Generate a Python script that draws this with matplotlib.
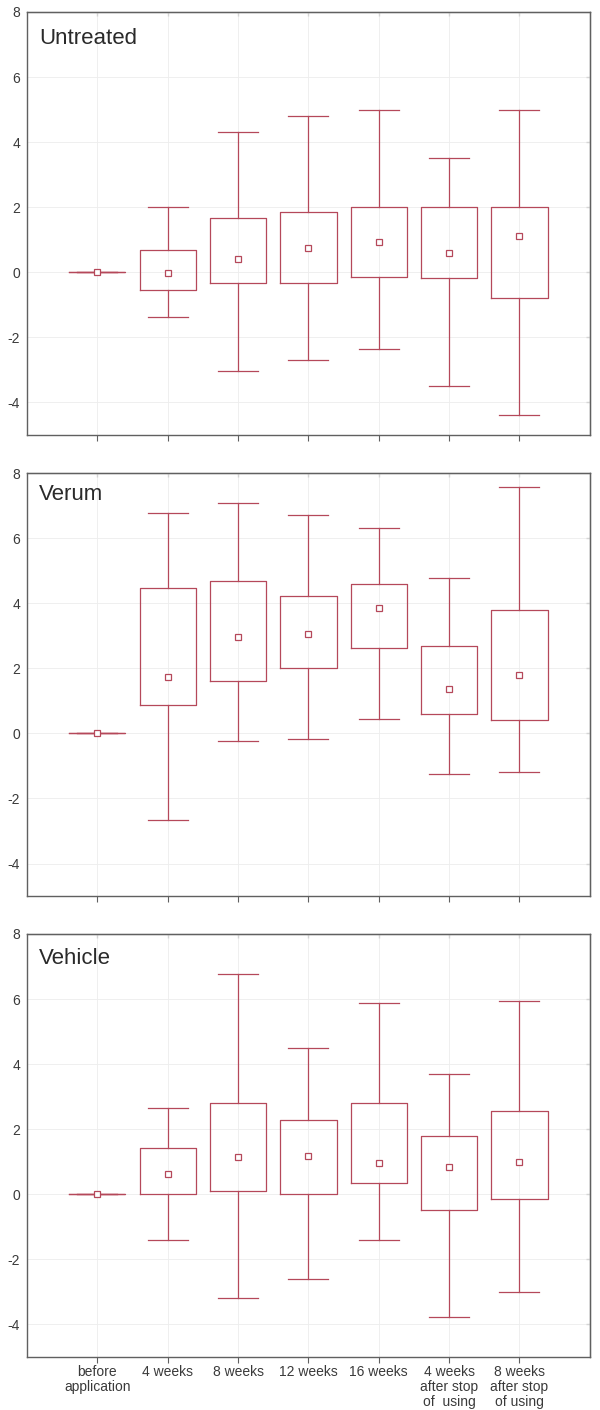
import matplotlib
matplotlib.use("Agg")
import matplotlib.pyplot as plt

plt.rcParams['font.family'] = ['Liberation Sans', 'DejaVu Sans']
plt.rcParams['axes.unicode_minus'] = False

# --- Data ---
categories = ["before\napplication", "4 weeks", "8 weeks", "12 weeks", "16 weeks",
              "4 weeks\nafter stop\nof  using", "8 weeks\nafter stop\nof using"]
groups = ["Untreated", "Verum", "Vehicle"]

# Untreated
untreated_center = [0, -0.02, 0.42, 0.75, 0.92, 0.59, 1.13]
untreated_q1 = [0, -0.55, -0.33, -0.33, -0.14, -0.19, -0.79]
untreated_q3 = [0, 0.70, 1.66, 1.84, 2.00, 2.00, 2.00]
untreated_min = [0, -1.38, -3.02, -2.69, -2.36, -3.50, -4.39]
untreated_max = [0, 2.00, 4.31, 4.80, 5.00, 3.50, 5.00]

# Verum
verum_center = [0, 1.72, 2.96, 3.06, 3.85, 1.37, 1.78]
verum_q1 = [0, 0.87, 1.60, 2.00, 2.62, 0.60, 0.41]
verum_q3 = [0, 4.47, 4.69, 4.21, 4.59, 2.67, 3.80]
verum_min = [0, -2.65, -0.22, -0.18, 0.44, -1.25, -1.20]
verum_max = [0, 6.78, 7.09, 6.70, 6.31, 4.78, 7.58]

# Vehicle
vehicle_center = [0, 0.62, 1.15, 1.18, 0.97, 0.83, 0.98]
vehicle_q1 = [0, 0.00, 0.09, 0.00, 0.34, -0.49, -0.15]
vehicle_q3 = [0, 1.41, 2.80, 2.27, 2.80, 1.79, 2.56]
vehicle_min = [0, -1.39, -3.20, -2.60, -1.39, -3.78, -2.99]
vehicle_max = [0, 2.65, 6.77, 4.50, 5.87, 3.70, 5.94]

series = [
    (untreated_center, untreated_q1, untreated_q3, untreated_min, untreated_max),
    (verum_center, verum_q1, verum_q3, verum_min, verum_max),
    (vehicle_center, vehicle_q1, vehicle_q3, vehicle_min, vehicle_max),
]

col = "#b5485a"
spine_col = "#606060"
text_col = "#3a3a3a"

fig = plt.figure(figsize=(6, 14.1), dpi=100)
bottoms = [0.6915, 0.3645, 0.0376]
title_y = [0.962, 0.975, 0.966]

for i, (name, (c, q1, q3, lo, hi)) in enumerate(zip(groups, series)):
    ax = fig.add_axes([0.045, bottoms[i], 0.938, 0.3])
    stats = []
    for k in range(len(categories)):
        stats.append(dict(med=c[k], mean=c[k], q1=q1[k], q3=q3[k],
                          whislo=lo[k], whishi=hi[k], fliers=[]))
    ax.bxp(stats, positions=list(range(len(categories))), widths=0.8,
           capwidths=0.57, showmeans=True, showfliers=False,
           boxprops=dict(color=col, linewidth=0.9),
           whiskerprops=dict(color=col, linewidth=0.9),
           capprops=dict(color=col, linewidth=0.9),
           medianprops=dict(linewidth=0),
           meanprops=dict(marker="s", markersize=4.5, markerfacecolor="white",
                          markeredgecolor=col, markeredgewidth=0.9))

    ax.set_xlim(-1, 7)
    ax.set_ylim(-5, 8)
    ax.set_yticks([-4, -2, 0, 2, 4, 6, 8])
    ax.set_xticks(range(len(categories)))
    if i == 2:
        ax.set_xticklabels(categories, fontsize=10, color=text_col, linespacing=1.08)
    else:
        ax.set_xticklabels([])
    ax.grid(True, color="#ededed", linewidth=0.6)
    ax.set_axisbelow(True)
    ax.tick_params(axis="y", length=0, pad=5, labelsize=10, labelcolor=text_col)
    ax.tick_params(axis="x", length=4, width=0.8, color=spine_col, pad=2)
    for sp in ax.spines.values():
        sp.set_color(spine_col)
        sp.set_linewidth(1.0)

    # inward ticks on top and right
    top = ax.secondary_xaxis("top")
    top.set_xticks(range(len(categories)))
    top.tick_params(direction="in", length=3, width=0.8, color=spine_col, labeltop=False)
    right = ax.secondary_yaxis("right")
    right.set_yticks([-4, -2, 0, 2, 4, 6])
    right.tick_params(direction="in", length=3, width=0.8, color=spine_col, labelright=False)

    ax.text(0.021, title_y[i], name, transform=ax.transAxes, fontsize=16,
            color="#2a2a2a", ha="left", va="top")

fig.savefig("out.png", dpi=100)
